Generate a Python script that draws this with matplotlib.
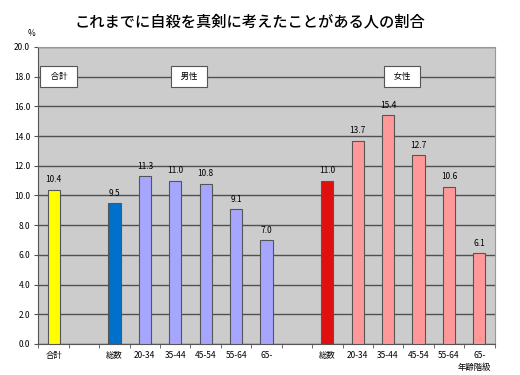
import matplotlib
matplotlib.use("Agg")
import matplotlib.pyplot as plt

plt.rcParams['font.family'] = ['Noto Sans CJK JP', 'DejaVu Sans']

# データ
categories = ['合計', '', '総数', '20-34', '35-44', '45-54', '55-64', '65-',
              '', '総数', '20-34', '35-44', '45-54', '55-64', '65-']
values = [10.4, None, 9.5, 11.3, 11.0, 10.8, 9.1, 7.0,
          None, 11.0, 13.7, 15.4, 12.7, 10.6, 6.1]
colors = ['#FFFF00', None, '#0070CC', '#A6A6FF', '#A6A6FF', '#A6A6FF', '#A6A6FF', '#A6A6FF',
          None, '#E01010', '#FF9999', '#FF9999', '#FF9999', '#FF9999', '#FF9999']
group_labels = ['合計', '男性', '女性']
group_pos = [0.17, 4.45, 11.46]

fig = plt.figure(figsize=(5.2, 3.75), dpi=100)
ax = fig.add_axes([0.074, 0.0827, 0.877, 0.792])
ax.set_facecolor('#CCCCCC')

xs = [i for i, v in enumerate(values) if v is not None]
vs = [v for v in values if v is not None]
cs = [c for c in colors if c is not None]
ax.bar(xs, vs, width=0.4, color=cs, edgecolor='#555555', linewidth=0.8, zorder=3)
for x, v in zip(xs, vs):
    ax.text(x, v + 0.35, f'{v:.1f}', ha='center', va='bottom', fontsize=6, zorder=4)

ax.set_xlim(-0.5, len(categories) - 0.5)
ax.set_ylim(0, 20)
ax.set_yticks([i * 2.0 for i in range(11)])
ax.set_yticklabels([f'{i * 2.0:.1f}' for i in range(11)], fontsize=6)
ax.set_xticks(range(len(categories)))
ax.set_xticklabels(categories, fontsize=6)
ax.set_xticks([i + 0.5 for i in range(-1, len(categories))], minor=True)
ax.tick_params(axis='x', which='major', length=0, pad=5)
ax.tick_params(axis='x', which='minor', length=3, color='#555555')
ax.tick_params(axis='y', length=3, color='#555555', pad=3)
ax.yaxis.grid(True, color='#505050', linewidth=1.0, zorder=1)
ax.set_axisbelow(True)

for sp in ['top', 'right']:
    ax.spines[sp].set_color('#999999')
for sp in ['left', 'bottom']:
    ax.spines[sp].set_color('#555555')

# 区分ラベル(白い枠)
for lab, gx in zip(group_labels, group_pos):
    ax.text(gx, 18.0, '  ' + lab + '  ', ha='center', va='center', fontsize=6, zorder=5,
            bbox=dict(boxstyle='square,pad=0.75', fc='white', ec='#555555', lw=0.8))

fig.text(0.48, 0.941, 'これまでに自殺を真剣に考えたことがある人の割合',
         ha='center', va='center', fontsize=11, fontweight='medium')
fig.text(0.06, 0.91, '%', ha='center', va='center', fontsize=6)
fig.text(0.912, 0.02, '年齢階級', ha='center', va='center', fontsize=6)

fig.savefig('out.png', dpi=100)
